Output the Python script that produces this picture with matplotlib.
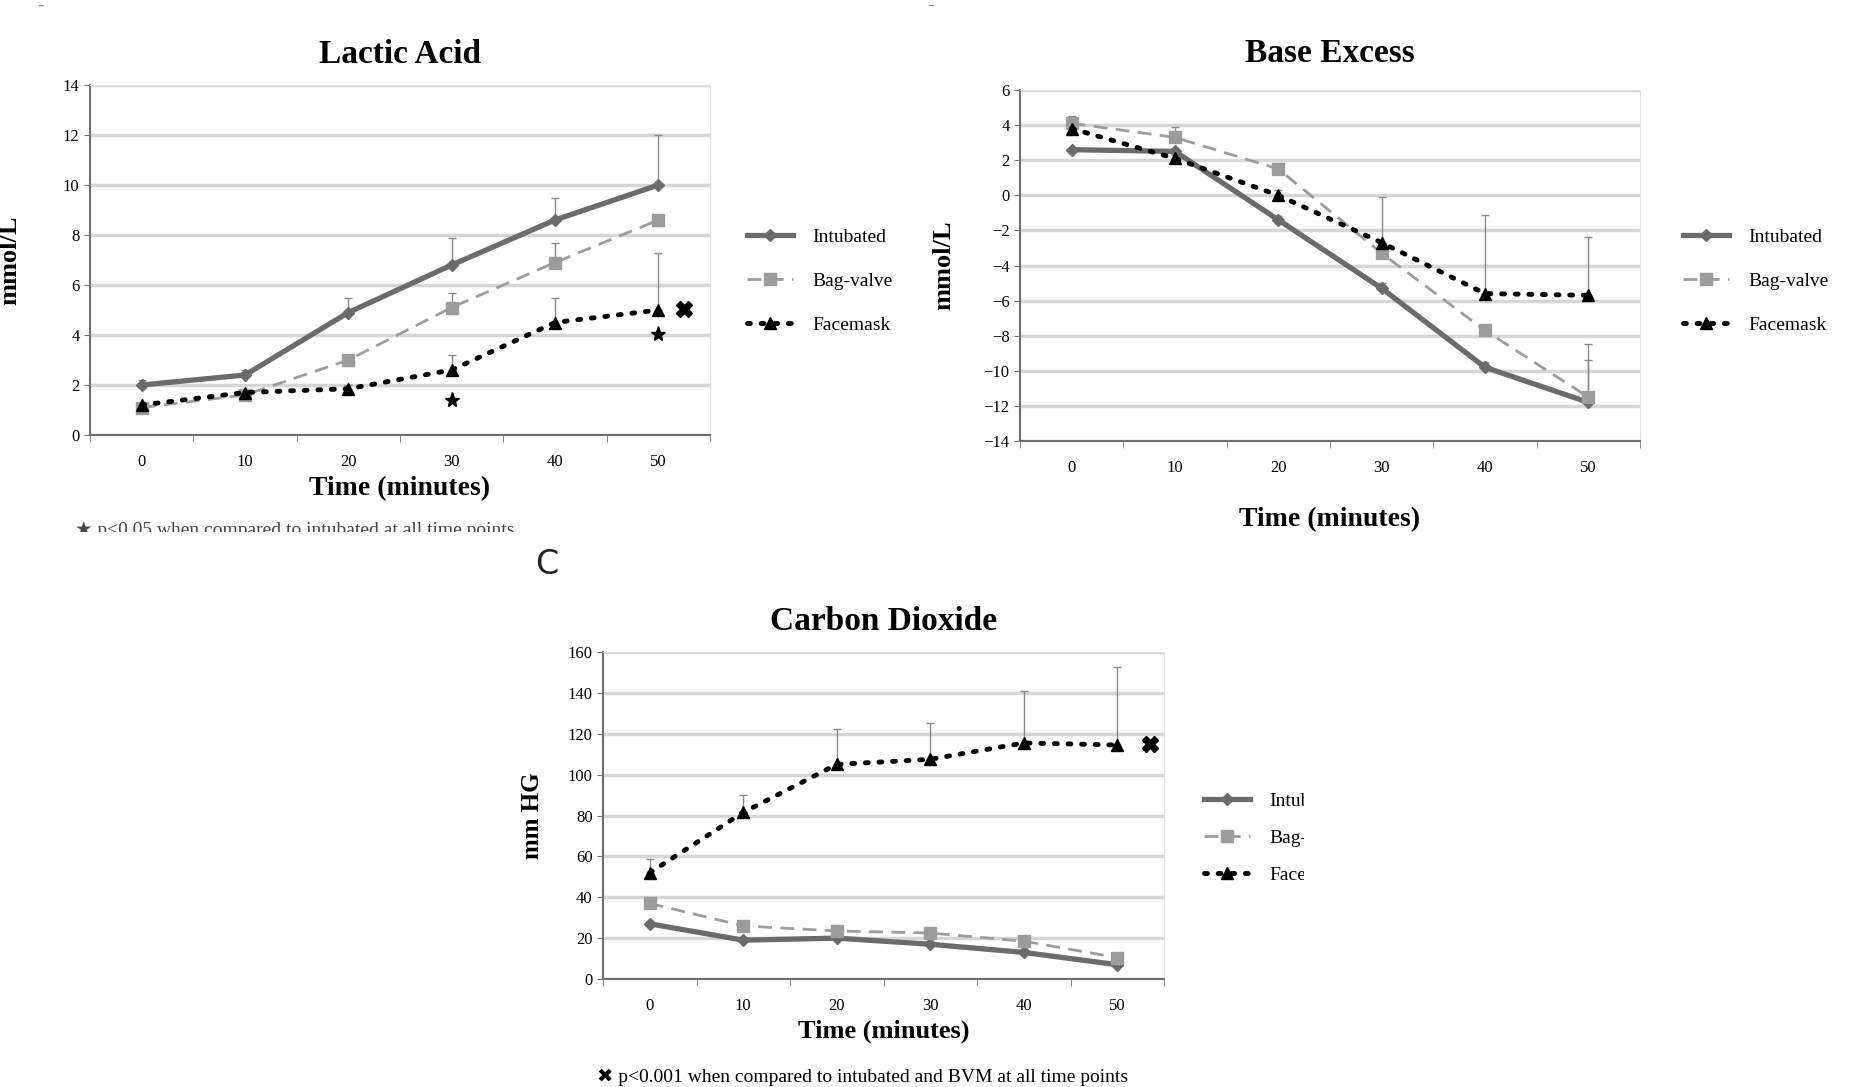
import matplotlib
matplotlib.use('Agg')
import matplotlib.pyplot as plt
import numpy as np
from matplotlib.patches import Rectangle

plt.rcParams['font.family'] = ['Liberation Serif', 'DejaVu Sans']

# ---- data ----
times = ['0', '10', '20', '30', '40', '50']
series = ['Intubated', 'Bag-valve', 'Facemask']

lactic_intub = [2.0, 2.4, 4.9, 6.8, 8.6, 10.0]
lactic_intub_up = [2.2, 2.6, 5.5, 7.9, 9.5, 12.0]
lactic_bag = [1.1, 1.6, 3.0, 5.1, 6.9, 8.6]
lactic_bag_up = [1.2, 1.7, 3.1, 5.7, 7.7, 8.8]
lactic_face = [1.2, 1.7, 1.85, 2.6, 4.5, 5.0]
lactic_face_up = [1.3, 1.8, 2.0, 3.2, 5.5, 7.3]
lactic_star = [1.4, 4.05]          # at 30 and 50 min
lactic_cross = 5.05

base_intub = [2.6, 2.5, -1.4, -5.3, -9.8, -11.8]
base_intub_up = [2.7, 2.6, -1.2, -5.0, -9.5, -9.4]
base_bag = [4.1, 3.3, 1.5, -3.3, -7.7, -11.5]
base_bag_up = [4.3, 3.9, 1.8, -3.0, -7.4, -8.5]
base_face = [3.8, 2.1, 0.0, -2.7, -5.6, -5.7]
base_face_up = [4.5, 2.3, 0.3, -0.1, -1.1, -2.4]

co2_intub = [27, 19, 20, 17, 13, 7]
co2_intub_up = [28, 20, 21, 18, 14, 8]
co2_bag = [37, 26, 23.5, 22.5, 18.5, 10.5]
co2_bag_up = [39, 27, 25, 24, 20, 12]
co2_face = [52, 81.5, 105, 107.5, 115.5, 114.5]
co2_face_up = [58.5, 90, 122.5, 125.5, 141, 152.5]
co2_cross = 115

W, H = 1855, 1087
fig = plt.figure(figsize=(W / 100, H / 100), dpi=100)


def px_axes(l, t, r, b):
    return fig.add_axes([l / W, 1 - b / H, (r - l) / W, (b - t) / H])


def draw_panel(ax, intub, intub_up, bag, bag_up, face, face_up, ylim, ystep, title, ylabel):
    x = np.arange(len(times))
    for vals, up in [(intub, intub_up), (bag, bag_up), (face, face_up)]:
        vals = np.array(vals, dtype=float)
        up = np.array(up, dtype=float)
        ax.errorbar(x, vals, yerr=[np.zeros_like(vals), up - vals], fmt='none',
                    ecolor='#8a8a8a', elinewidth=1, capsize=3, zorder=2)
    ax.plot(x, intub, color='#6b6b6b', lw=3.8, marker='D', ms=6, label=series[0], zorder=3)
    ax.plot(x, bag, color='#9c9c9c', lw=2, ls=(0, (5, 3)), marker='s', ms=8, label=series[1], zorder=4)
    ax.plot(x, face, color='black', lw=3.5, ls=(0, (0.6, 2.2)), dash_capstyle='round',
            marker='^', ms=9, label=series[2], zorder=5)
    ax.set_xlim(-0.5, len(times) - 0.5)
    ax.set_ylim(*ylim)
    ax.set_yticks(np.arange(ylim[0], ylim[1] + ystep / 2, ystep))
    ax.set_xticks(x)
    ax.set_xticklabels(times)
    ax.set_xticks(np.arange(-0.5, len(times), 1), minor=True)
    ax.tick_params(axis='x', which='major', length=0, labelsize=12, pad=14)
    ax.tick_params(axis='x', which='minor', length=5, color='#777777')
    ax.tick_params(axis='y', length=4, color='#777777', labelsize=12)
    ax.yaxis.grid(True, color='#d6d6d6', lw=2.5)
    ax.set_axisbelow(True)
    for s in ['left', 'bottom']:
        ax.spines[s].set_color('#6e6e6e')
        ax.spines[s].set_linewidth(1.5)
    for s in ['top', 'right']:
        ax.spines[s].set_color('#e0e0e0')
    ax.set_title(title, fontsize=24, fontweight='bold', pad=16)
    ax.set_xlabel('Time (minutes)', fontsize=20, fontweight='bold', labelpad=4)
    ax.set_ylabel(ylabel, fontsize=19, fontweight='bold')


def add_legend(ax, x, y, spacing):
    ax.legend(loc='center left', bbox_to_anchor=(x / W, 1 - y / H), bbox_transform=fig.transFigure,
              frameon=False, fontsize=14, handlelength=2.4, labelspacing=spacing, handletextpad=1.0)


# panel A
axA = px_axes(90, 85, 710, 435)
draw_panel(axA, lactic_intub, lactic_intub_up, lactic_bag, lactic_bag_up,
           lactic_face, lactic_face_up, (0, 14), 2, 'Lactic Acid', 'mmol/L')
axA.plot([3, 5], lactic_star, ls='none', marker='*', ms=11, color='black', zorder=6)
axA.plot([5.25], [lactic_cross], ls='none', marker='X', ms=12, color='black', zorder=6)
axA.yaxis.set_label_coords(-0.11, 0.5)
add_legend(axA, 729, 281, 1.35)

# panel B
axB = px_axes(1020, 90, 1640, 441)
draw_panel(axB, base_intub, base_intub_up, base_bag, base_bag_up,
           base_face, base_face_up, (-14, 6), 2, 'Base Excess', 'mmol/L')
axB.set_title('Base Excess', fontsize=24, fontweight='bold', pad=20)
axB.yaxis.set_label_coords(-0.105, 0.5)
axB.xaxis.labelpad = 22
add_legend(axB, 1665, 281, 1.35)

# panel C
axC = px_axes(603, 652, 1164, 979)
draw_panel(axC, co2_intub, co2_intub_up, co2_bag, co2_bag_up,
           co2_face, co2_face_up, (0, 160), 20, 'Carbon Dioxide', 'mm HG')
axC.plot([5.35], [co2_cross], ls='none', marker='X', ms=12, color='black', zorder=6)
axC.xaxis.label.set_fontsize(19)
axC.yaxis.label.set_fontsize(18)
axC.yaxis.set_label_coords(-0.105, 0.5)
add_legend(axC, 1186, 838, 1.0)

fig.text(547 / W, 1 - 564 / H, 'C', fontsize=24, family='DejaVu Sans', color='#222222',
         ha='center', va='center')
fig.text(75 / W, 1 - 530 / H, '\u2605 p<0.05 when compared to intubated at all time points',
         fontsize=14, ha='left', va='center', color='#444444')
fig.text(597 / W, 1 - 1077 / H, '\u2716 p<0.001 when compared to intubated and BVM at all time points',
         fontsize=14, ha='left', va='center')
fig.text(41 / W, 1 - 6 / H, '-', fontsize=14, color='#888888', ha='center', va='center')
fig.text(931 / W, 1 - 6 / H, '-', fontsize=14, color='#888888', ha='center', va='center')

# the original panels are cropped: hide what lies outside the crops
fig.patches.append(Rectangle((0, 1 - 548 / H), 720 / W, 16 / H, transform=fig.transFigure,
                             facecolor='white', edgecolor='none', zorder=20))
fig.patches.append(Rectangle((1304 / W, 1 - 1000 / H), (W - 1304) / W, 380 / H, transform=fig.transFigure,
                             facecolor='white', edgecolor='none', zorder=20))

fig.savefig('out.png', dpi=100)
